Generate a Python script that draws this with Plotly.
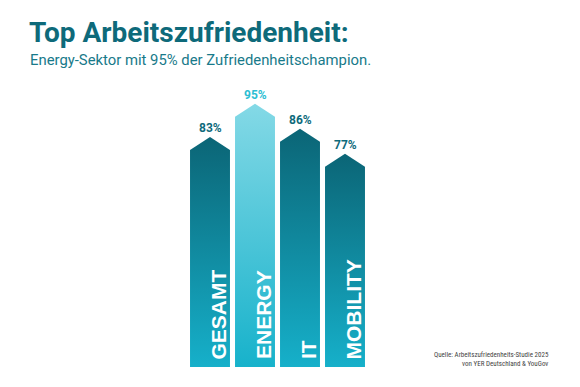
import plotly.graph_objects as go

categories = ["GESAMT", "ENERGY", "IT", "MOBILITY"]
values = [83, 95, 86, 77]
value_labels = ["83%", "95%", "86%", "77%"]
highlight = [False, True, False, False]

title = "Top Arbeitszufriedenheit:"
subtitle = "Energy-Sektor mit 95% der Zufriedenheitschampion."
source = "Quelle: Arbeitszufriedenheits-Studie 2025<br>von YER Deutschland & YouGov"

W, H = 580, 387
OFF = 8  # page body margin offset
px_per_cat = 45.0
first_center_px = 210.0 - OFF
px_per_unit = 2.77
base_px = 367.0 - OFF

x0 = -first_center_px / px_per_cat
x1 = x0 + W / px_per_cat
y0 = -(H - base_px) / px_per_unit
y1 = base_px / px_per_unit

half_w = 0.444
arrow_h = 4.7

dark_scale = [[0, "#16b0ca"], [1, "#0b6576"]]
light_scale = [[0, "#17b2cb"], [1, "#84d9e6"]]

fig = go.Figure()
annotations = []
for i, (cat, v, lab, hl) in enumerate(zip(categories, values, value_labels, highlight)):
    xs = [i - half_w, i - half_w, i, i + half_w, i + half_w, i - half_w]
    ys = [0, v - arrow_h, v, v - arrow_h, 0, 0]
    fig.add_trace(go.Scatter(
        x=xs, y=ys, mode="lines", fill="toself",
        line=dict(width=0),
        fillgradient=dict(type="vertical", colorscale=light_scale if hl else dark_scale,
                          start=0, stop=v),
        hoverinfo="skip", showlegend=False,
    ))
    annotations.append(dict(
        x=i, y=v, xref="x", yref="y", text=f"<b>{lab}</b>", showarrow=False,
        yanchor="bottom", yshift=0,
        font=dict(family="Roboto", size=12, color="#2cbed3" if hl else "#0e6a7b"),
    ))
    annotations.append(dict(
        x=i + half_w, y=0, xref="x", yref="y", text=f"<b>{cat}</b>", showarrow=False,
        textangle=-90, xanchor="right", yanchor="bottom", xshift=2, yshift=6,
        font=dict(family="Liberation Sans", size=21, color="white"),
    ))

annotations.append(dict(
    x=(27 - OFF) / W, y=1 - (14 - OFF) / H, xref="paper", yref="paper", xanchor="left", yanchor="top",
    text=f"<b>{title}</b>", showarrow=False,
    font=dict(family="Roboto", size=28, color="#0e6a7a"),
))
annotations.append(dict(
    x=(28 - OFF) / W, y=1 - (49 - OFF) / H, xref="paper", yref="paper", xanchor="left", yanchor="top",
    text=subtitle, showarrow=False,
    font=dict(family="Roboto", size=14.85, color="#187a8a"),
))
annotations.append(dict(
    x=(551 - OFF) / W, y=1 - (349 - OFF) / H, xref="paper", yref="paper", xanchor="right", yanchor="top",
    text=source, showarrow=False, align="right",
    font=dict(family="Liberation Sans Narrow, Roboto Condensed, Roboto", size=7, color="#444444"),
))

fig.update_layout(
    width=W, height=H,
    margin=dict(l=0, r=0, t=0, b=0),
    paper_bgcolor="white", plot_bgcolor="white",
    xaxis=dict(range=[x0, x1], visible=False, fixedrange=True),
    yaxis=dict(range=[y0, y1], visible=False, fixedrange=True),
    annotations=annotations,
)

fig.write_html("out.html")
